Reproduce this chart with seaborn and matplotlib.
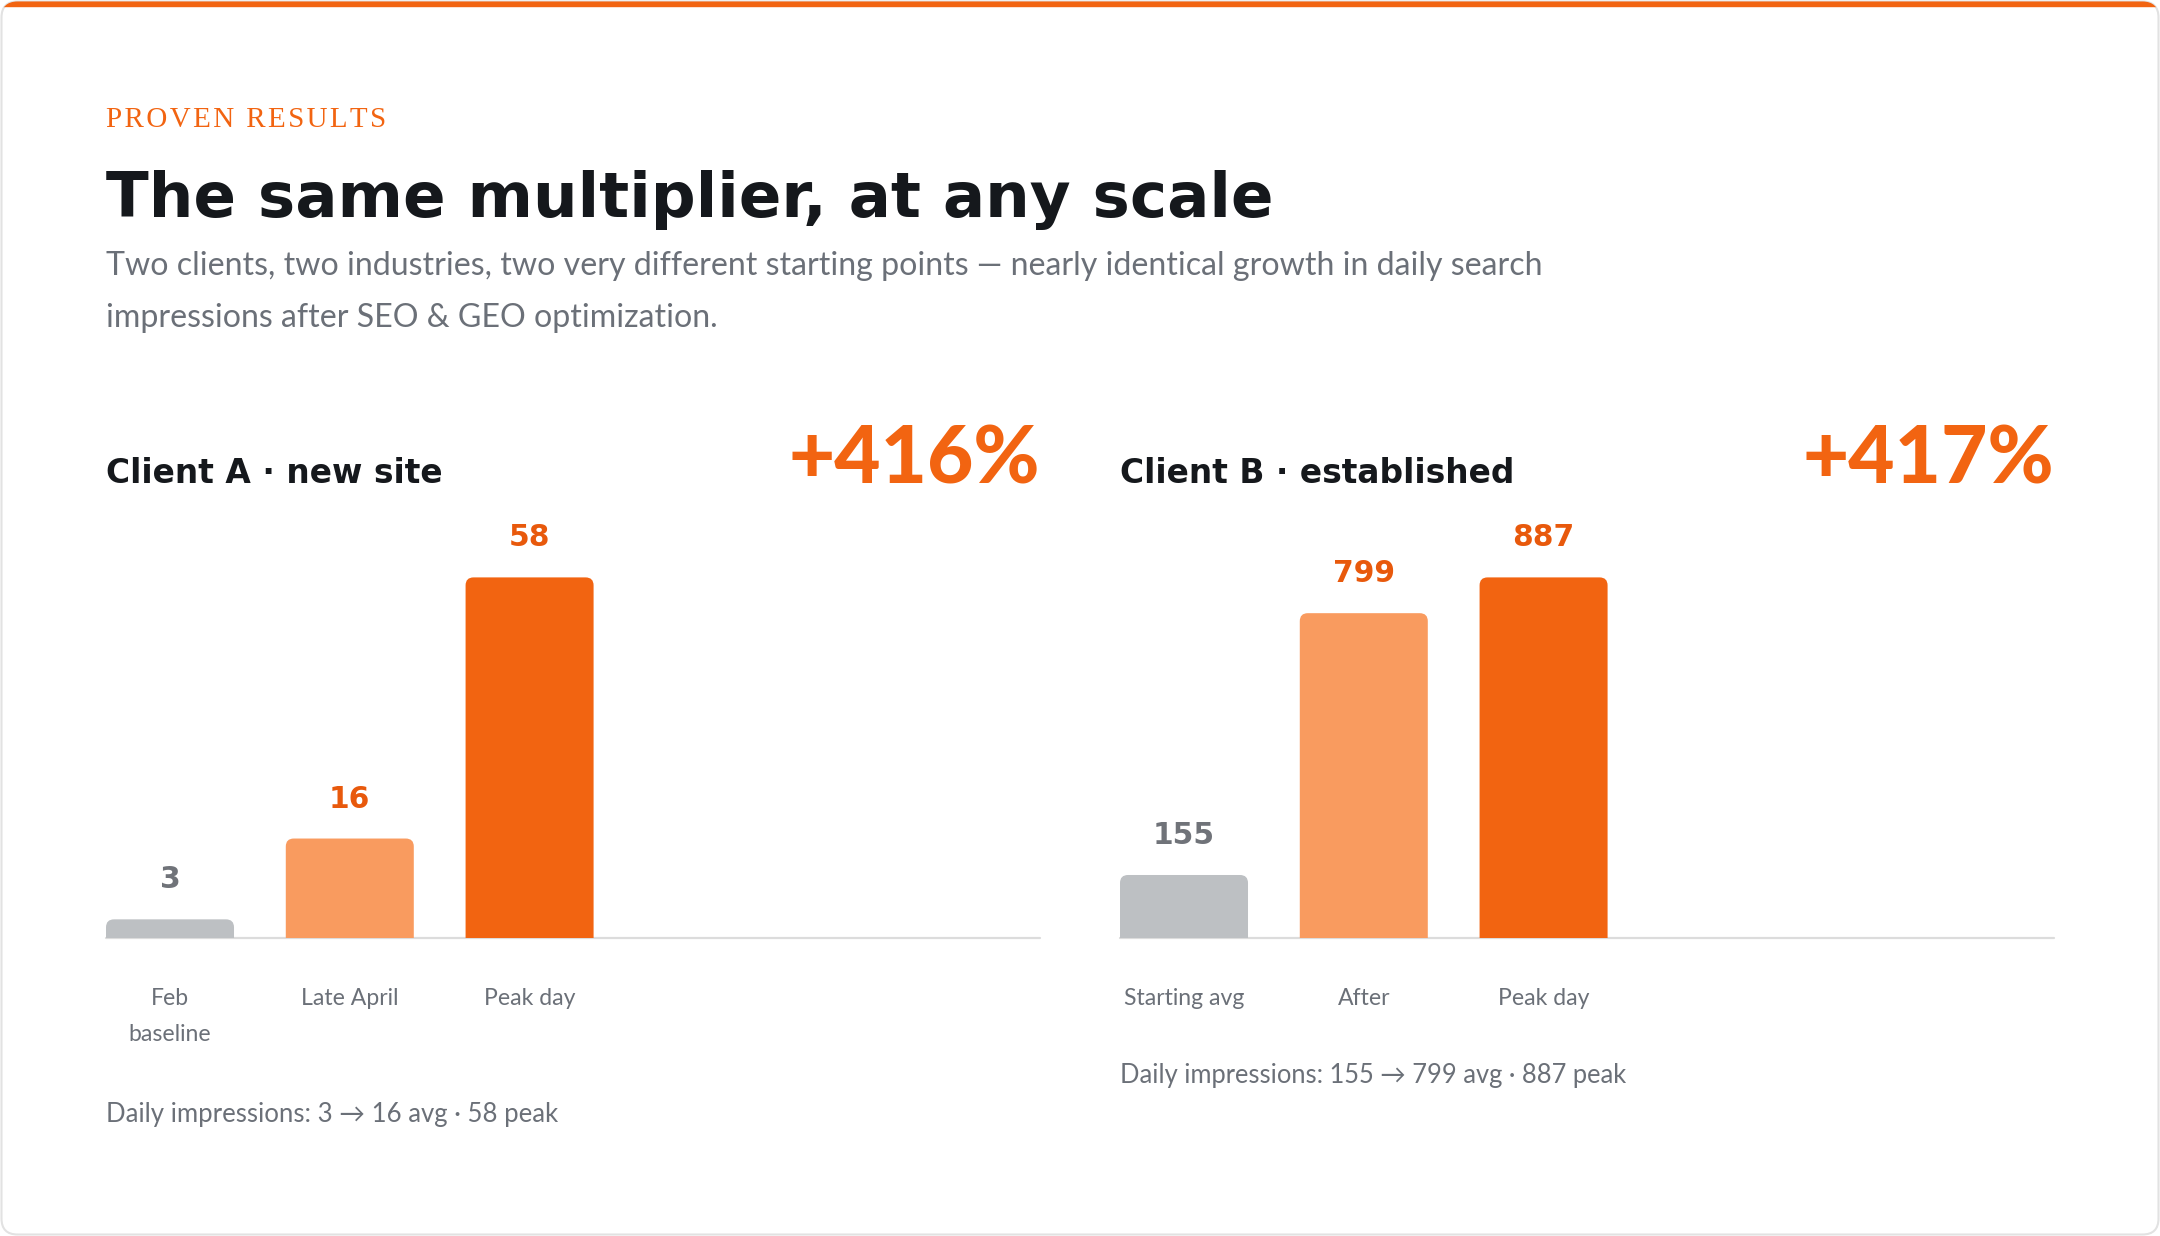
import matplotlib
matplotlib.use("Agg")
import matplotlib.pyplot as plt
from matplotlib.patches import FancyBboxPatch, Rectangle
from matplotlib.transforms import IdentityTransform
import seaborn as sns

# data
eyebrow = "PROVEN RESULTS"
title = "The same multiplier, at any scale"
subtitle = ["Two clients, two industries, two very different starting points \u2014 nearly identical growth in daily search",
            "impressions after SEO & GEO optimization."]

a_name = "Client A \u00b7 new site"
a_lift = "+416%"
a_labels = ["Feb\nbaseline", "Late April", "Peak day"]
a_values = [3, 16, 58]
a_note = "Daily impressions: 3 \u2192 16 avg \u00b7 58 peak"

b_name = "Client B \u00b7 established"
b_lift = "+417%"
b_labels = ["Starting avg", "After", "Peak day"]
b_values = [155, 799, 887]
b_note = "Daily impressions: 155 \u2192 799 avg \u00b7 887 peak"

bar_colors = ["#bdc0c3", "#f99b5f", "#f26411"]
value_colors = ["#707379", "#e8590c", "#e8590c"]
ORANGE = "#f26411"
DARK = "#15181c"
GREY = "#6b7078"

sns.set_theme(style="white")
plt.rcParams["font.family"] = ["Lato", "DejaVu Sans"]

W, H = 2160, 1236
fig = plt.figure(figsize=(W / 100, H / 100), dpi=100)
fig.patch.set_facecolor("white")
renderer = fig.canvas.get_renderer()


def pt(px):
    return px * 0.72


def put(x, y, s, **kw):
    return fig.text(x / W, 1 - y / H, s, va="baseline", **kw)


def fit(t, width):
    w = t.get_window_extent(renderer).width
    t.set_fontsize(t.get_fontsize() * width / w)
    return t.get_fontsize()


# card with orange top strip
card = FancyBboxPatch((1.5, 1.5), W - 3, H - 3, boxstyle="round,pad=0,rounding_size=16",
                      transform=IdentityTransform(), fc="white", ec="#e2e2e2", lw=1.5, zorder=-10)
fig.add_artist(card)
strip = Rectangle((0, H - 6), W, 6, transform=IdentityTransform(), color=ORANGE, zorder=-9)
strip.set_clip_path(card)
fig.add_artist(strip)

# header texts
t = put(106, 127, "\u200a".join(eyebrow), color=ORANGE, family=["Liberation Serif", "DejaVu Serif"], fontsize=18)
fit(t, 281)
t = put(106, 217, title, color=DARK, family="DejaVu Sans", weight="bold", fontsize=50)
fit(t, 1169)
t1 = put(106, 275, subtitle[0], color=GREY, fontsize=22)
fs = fit(t1, 1431)
put(106, 327, subtitle[1], color=GREY, fontsize=fs)

# panels
panels = [(106, 1040, a_name, a_lift, a_labels, a_values, a_note, 1122),
          (1120, 2054, b_name, b_lift, b_labels, b_values, b_note, 1083)]
base_y = 938
bar_h = 360.6
xmin, xmax = -0.356, 4.839
panels_vfs = None
for x0, x1, name, lift, labels, values, note, note_y in panels:
    t = put(x0, 483, name, color=DARK, family="DejaVu Sans", weight="bold", fontsize=24)
    fit(t, 337.5 if x0 < 1000 else 395)
    t = put(x1, 484, lift, color=ORANGE, family=["Lato", "DejaVu Sans"], weight="black",
            ha="right", fontsize=56)
    fit(t, 252)
    t = put(x0, note_y, note, color=GREY, fontsize=20)
    fit(t, 452 if x0 < 1000 else 507)

    ax = fig.add_axes([x0 / W, (H - base_y) / H, (x1 - x0) / W, bar_h / H])
    sns.barplot(x=labels, y=values, hue=labels, palette=bar_colors, legend=False,
                saturation=1, width=0.712, ax=ax)
    ax.set_xlim(xmin, xmax)
    ax.set_ylim(0, max(values))
    ax.set_axis_off()

    # rounded top corners
    px_x = (x1 - x0) / (xmax - xmin)
    px_y = bar_h / max(values)
    asp = px_x / px_y
    r = 8 / px_x
    for p in list(ax.patches):
        bx, bw, bh = p.get_x(), p.get_width(), p.get_height()
        fc = p.get_facecolor()
        p.remove()
        ax.add_patch(FancyBboxPatch((bx, -r * asp), bw, bh + r * asp,
                                    boxstyle=f"round,pad=0,rounding_size={r}",
                                    mutation_aspect=asp, fc=fc, ec="none", zorder=2))
    ax.axhline(0, color="#dcdcdc", lw=pt(2.2), clip_on=False, zorder=1)

    for i, v in enumerate(values):
        t = ax.annotate(f"{v}", xy=(i, v), xytext=(0, pt(31)), textcoords="offset points",
                        ha="center", va="baseline", color=value_colors[i], family="DejaVu Sans",
                        weight="bold", fontsize=22, annotation_clip=False)
        if v == 887:
            panels_vfs = fit(t, 62)
        for j, line in enumerate(labels[i].split("\n")):
            ax.annotate(line, xy=(i, 0), xytext=(0, -pt(67 + 36 * j)), textcoords="offset points",
                        ha="center", va="baseline", color=GREY, fontsize=pt(24) * 0.96,
                        annotation_clip=False)

# value label size shared
for ax in fig.axes:
    for t in ax.texts:
        if t.get_text().isdigit() and panels_vfs:
            t.set_fontsize(panels_vfs)

fig.savefig("out.png", dpi=100, facecolor="white")
